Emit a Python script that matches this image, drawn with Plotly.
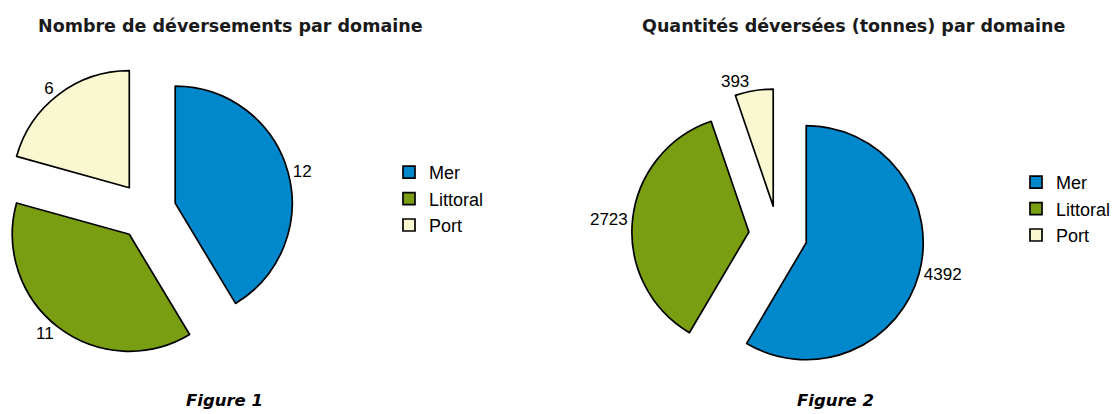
import plotly.graph_objects as go

# ---- data ----
categories = ["Mer", "Littoral", "Port"]
counts = [12, 11, 6]            # Figure 1: nombre de déversements
tonnes = [4392, 2723, 393]      # Figure 2: quantités déversées (tonnes)
titles = ["Nombre de déversements par domaine",
          "Quantités déversées (tonnes) par domaine"]
figure_labels = ["Figure 1", "Figure 2"]

# ---- style ----
W, H = 1112, 414
colors = ["#0088CC", "#7A9E12", "#FAF8D0"]
PULL = 0.25
num_font = dict(family="Liberation Sans, Arial, sans-serif", size=17, color="black")
leg_font = dict(family="Liberation Sans, Arial, sans-serif", size=18, color="black")
bold_font = dict(family="DejaVu Sans, sans-serif", size=17.5, color="#1a1a1a", weight="bold")
fig_font = dict(family="DejaVu Sans, sans-serif", size=16.5, color="black",
                weight="bold", style="italic")


def px(x, y):
    """pixel position -> paper coordinates"""
    return x / W, 1 - y / H


def dom(cx, cy, size):
    half = size / 2
    x0, y1 = px(cx - half, cy - half)
    x1, y0 = px(cx + half, cy + half)
    return dict(x=[max(0, x0), min(1, x1)], y=[max(0, y0), min(1, y1)])


fig = go.Figure()
fig.add_trace(go.Pie(
    labels=categories, values=counts, sort=False, direction="clockwise", rotation=0,
    pull=[PULL] * len(categories),
    marker=dict(colors=colors, line=dict(color="black", width=1.7)),
    textinfo="value", textposition="outside", textfont=num_font,
    domain=dom(147, 211, 292.5), legend="legend", legendgroup="fig1",
    hoverinfo="skip",
))
fig.add_trace(go.Pie(
    labels=categories, values=tonnes, sort=False, direction="clockwise", rotation=0,
    pull=[PULL] * len(categories),
    marker=dict(colors=colors, line=dict(color="black", width=1.7)),
    textinfo="value", textposition="outside", textfont=num_font,
    domain=dom(778, 235, 292.5), legend="legend2", legendgroup="fig2",
    hoverinfo="skip",
))

annotations = []
for txt, (x, y), f in [(titles[0], (230, 26), bold_font),
                       (titles[1], (853, 26), bold_font),
                       (figure_labels[0], (224, 400), fig_font),
                       (figure_labels[1], (835, 400), fig_font)]:
    ax, ay = px(x, y)
    annotations.append(dict(text=txt, x=ax, y=ay, xref="paper", yref="paper",
                            xanchor="center", yanchor="middle", showarrow=False, font=f))

legend_style = dict(font=leg_font, bgcolor="rgba(0,0,0,0)", borderwidth=0,
                    xanchor="left", yanchor="top", traceorder="normal")
l1x, l1y = px(389, 154)
l2x, l2y = px(1016, 164)
fig.update_layout(
    width=W, height=H,
    margin=dict(l=0, r=0, t=0, b=0, autoexpand=False),
    paper_bgcolor="white", plot_bgcolor="white",
    showlegend=True,
    legend=dict(x=l1x, y=l1y, **legend_style),
    legend2=dict(x=l2x, y=l2y, **legend_style),
    annotations=annotations,
)

fig.write_html("out.html", config={"displayModeBar": False},
               post_script="document.body.style.margin='0';")
